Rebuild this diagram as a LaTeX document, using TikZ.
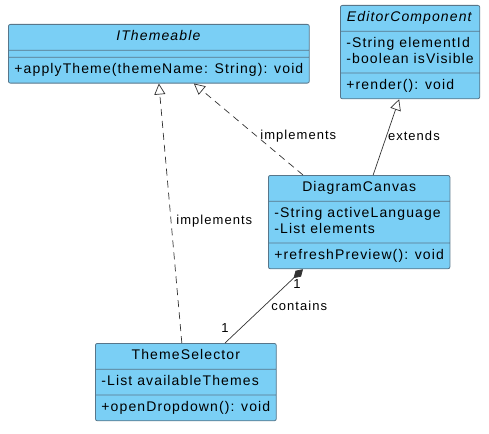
\documentclass[tikz,border=0pt]{standalone}
\usepackage{fontspec}
\usetikzlibrary{shapes.multipart,arrows.meta}

\newfontfamily\umlfont[LetterSpace=8]{Liberation Sans}
\newcommand{\sr}{\rule[-4pt]{0pt}{15pt}}
\newcommand{\srw}{\rule[-8pt]{0pt}{23pt}}
\definecolor{classfill}{RGB}{122,207,245}
\definecolor{classline}{RGB}{88,118,138}

\begin{document}
\begin{tikzpicture}[x=1pt,y=-1pt]

\tikzset{umlclass/.style = {rectangle split, rectangle split parts=3, draw=classline, fill=classfill,
  line width=0.8pt, rounded corners=2pt, anchor=north west, inner xsep=6pt, inner ysep=5pt,
  rectangle split part align={center,left,left},
  font=\umlfont\fontsize{14}{16}\selectfont}}
\tikzset{realize/.style = {draw=black!80, line width=0.7pt, dash pattern=on 7pt off 5pt, -{Triangle[open,length=11pt,width=11pt,fill=white]}}}
\tikzset{inherit/.style = {draw=black!80, line width=0.7pt, -{Triangle[open,length=11pt,width=11pt,fill=white]}}}
\tikzset{compose/.style = {draw=black!80, line width=0.7pt, -{Diamond[length=13pt,width=8pt]}}}
\tikzset{lbl/.style = {font=\umlfont\fontsize{13}{15}\selectfont, inner sep=1pt}}

\useasboundingbox (0,0) rectangle (489,433);

\node[umlclass, inner ysep=1pt, minimum width=298pt] (it) at (8,24)
  {\srw\textit{IThemeable}\nodepart{two}\nodepart{three}\srw+applyTheme(themeName: String): void};
\node[umlclass, align=left, minimum width=135pt] (ec) at (340,5)
  {\sr\textit{EditorComponent} \nodepart{two} \sr-String elementId\\\sr-boolean isVisible
   \nodepart{three} \sr+render(): void};
\node[umlclass, align=left, minimum width=178pt] (dc) at (268,175)
  {\sr DiagramCanvas \nodepart{two} \sr-String activeLanguage\\\sr-List elements
   \nodepart{three} \sr+refreshPreview(): void};
\node[umlclass, minimum width=179pt] (ts) at (95,343)
  {\sr ThemeSelector \nodepart{two} \sr-List availableThemes
   \nodepart{three} \sr+openDropdown(): void};

% relations
\draw[realize] ([xshift=-4pt]ts.north) -- node[lbl, pos=0.47, anchor=west, xshift=4pt] {implements} (it.south);
\draw[realize] ([xshift=35pt]dc.north west) -- node[lbl, pos=0.43, anchor=west, xshift=3pt] {implements} ([xshift=35pt]it.south);
\draw[inherit] ([xshift=14pt]dc.north) -- node[lbl, pos=0.52, anchor=west] {extends} ([xshift=-11pt]ec.south);
\draw[compose] ([xshift=130pt]ts.north west) -- node[lbl, pos=0.5, anchor=west, xshift=6pt] {contains}
  node[lbl, pos=0, anchor=south, yshift=9pt] {1}
  node[lbl, pos=1, anchor=north, xshift=-6pt, yshift=-9pt] {1} ([xshift=35pt]dc.south west);

\end{tikzpicture}
\end{document}
